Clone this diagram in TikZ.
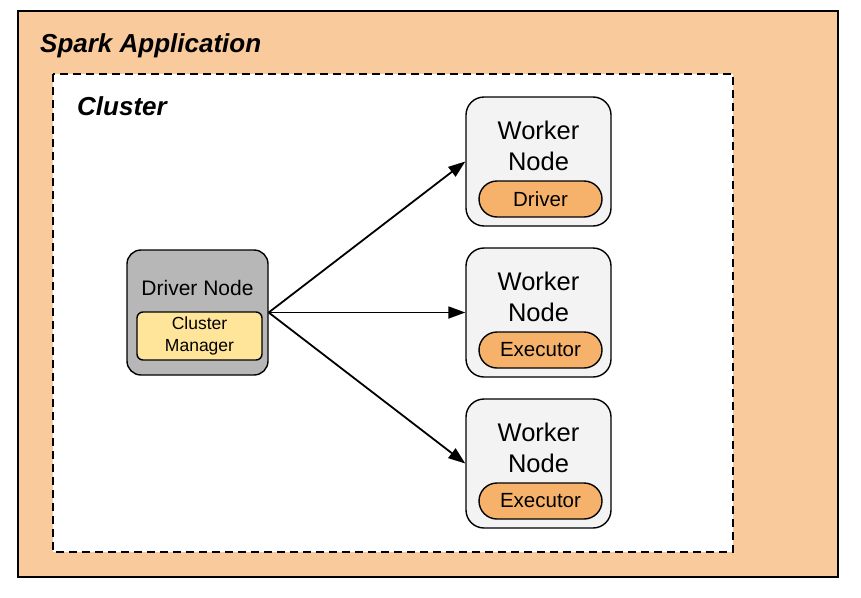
\documentclass[tikz,border=0pt]{standalone}
\usepackage{fontspec}
\setmainfont{Liberation Sans}
\usetikzlibrary{arrows.meta}

\definecolor{appfill}{HTML}{F9CB9C}
\definecolor{drivergray}{HTML}{B7B7B7}
\definecolor{managerfill}{HTML}{FFE599}
\definecolor{workerfill}{HTML}{F3F3F3}
\definecolor{rolefill}{HTML}{F6B26B}

\tikzset{
	framelabel/.style={inner sep=0pt, font=\fontsize{26}{30}\selectfont\bfseries\itshape},
	driverbox/.style={draw, line width=1.4pt, fill=drivergray, rounded corners=14pt, minimum width=141pt, minimum height=125pt},
	managerbox/.style={draw, line width=1.4pt, fill=managerfill, rounded corners=6pt, minimum width=125pt, minimum height=48pt, align=center, inner sep=0pt, font=\fontsize{17.5}{22}\selectfont},
	workerbox/.style={draw, line width=1.4pt, fill=workerfill, rounded corners=18pt, minimum width=145pt, minimum height=129pt},
	rolebox/.style={draw, line width=1.4pt, fill=rolefill, rounded corners=18pt, minimum width=123pt, minimum height=36pt, inner sep=0pt, font=\fontsize{20.5}{24}\selectfont},
	boxtext/.style={inner sep=0pt, align=center},
	link/.style={line width=1.8pt, -{Triangle[length=17pt, width=12pt]}}
}

\begin{document}
\begin{tikzpicture}[x=1pt, y=-1pt]
	\useasboundingbox (0,0) rectangle (861,597);

	% outer frames
	\draw[line width=2pt, fill=appfill] (18,11) rectangle (838,577);
	\draw[line width=1.6pt, fill=white, dash pattern=on 8pt off 5pt] (53,74) rectangle (733,552);
	\node[framelabel, anchor=base west] (app) at (40,52) {Spark Application};
	\node[framelabel, anchor=base west] (cluster) at (77,115) {Cluster};

	% driver node
	\node[driverbox] (driver) at (197.5,312.5) {};
	\node[boxtext, anchor=base, font=\fontsize{21}{25}\selectfont] (drivertext) at (197.5,295) {Driver Node};
	\node[managerbox] (manager) at (199.5,336) {Cluster\\Manager};

	% worker nodes
	\foreach \top/\name/\role in {97/wtop/Driver, 248/wmid/Executor, 399/wbot/Executor} {
		\node[workerbox] (\name) at (538.5,\top+64.5) {};
		\node[boxtext, font=\fontsize{25.5}{31}\selectfont] (\name text) at (538.5,\top+49) {Worker\\Node};
		\node[rolebox] (\name role) at (540.5,\top+102) {\role};
	}

	% links
	\draw[link] (driver.east) -- (wtop.west);
	\draw[link] (driver.east) -- (wmid.west);
	\draw[link] (driver.east) -- (wbot.west);
\end{tikzpicture}
\end{document}
